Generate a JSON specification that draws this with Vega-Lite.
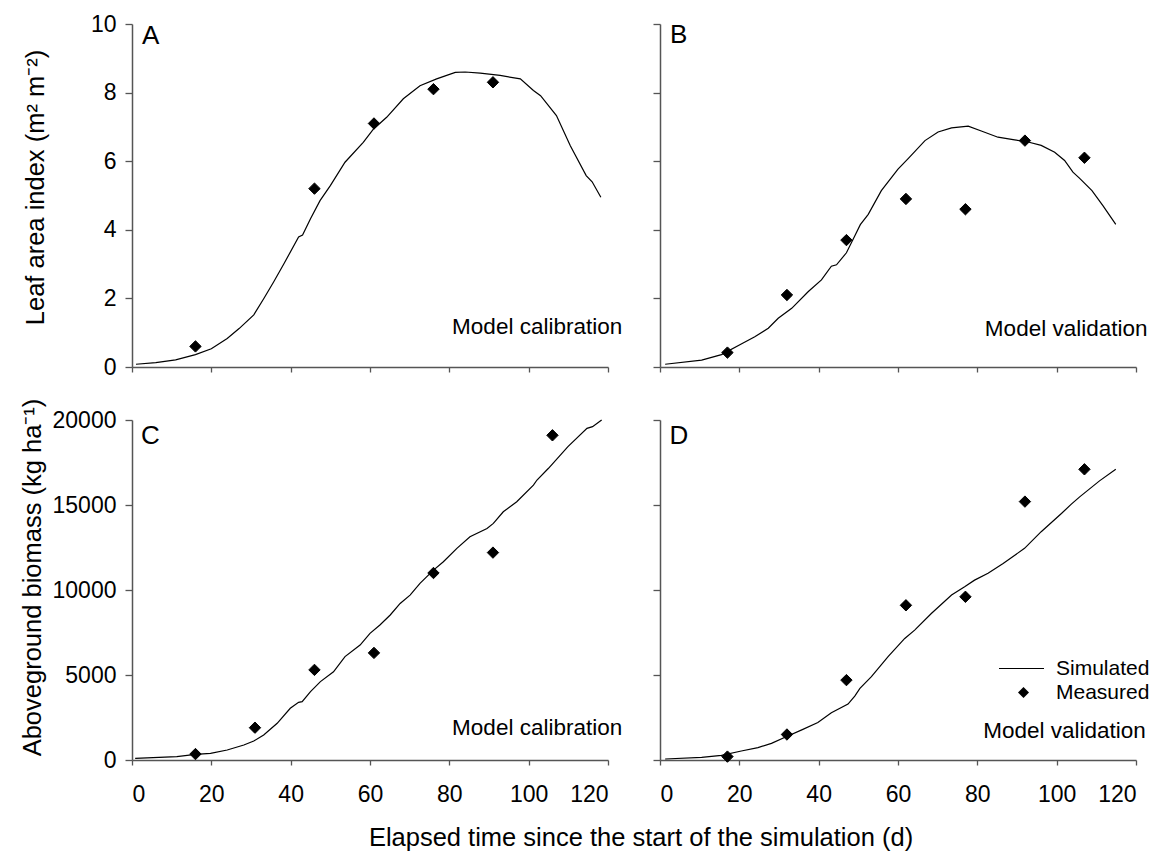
{
  "$schema": "https://vega.github.io/schema/vega-lite/v6.json",
  "background": "white",
  "padding": {"left": 19, "top": 13, "right": 5, "bottom": 4},
  "config": {
    "view": {"stroke": null},
    "font": "Liberation Sans",
    "axis": {
      "grid": false,
      "domainColor": "#555",
      "domainWidth": 1.5,
      "tickColor": "#555",
      "tickWidth": 1.3,
      "labelFont": "Liberation Sans",
      "labelFontSize": 23,
      "labelColor": "black",
      "titleFont": "Liberation Sans",
      "titleFontSize": 25.5,
      "titleFontWeight": "normal",
      "titleColor": "black"
    },
    "axisX": {"tickSize": 5, "labelPadding": 18},
    "axisY": {"tickSize": 7, "labelPadding": 9},
    "legend": {"labelFont": "Liberation Sans", "labelFontSize": 21, "labelColor": "black", "padding": 0, "rowPadding": 3}
  },
  "title": {
    "text": "Elapsed time since the start of the simulation (d)",
    "orient": "bottom",
    "anchor": "middle",
    "font": "Liberation Sans",
    "fontSize": 25.5,
    "fontWeight": "normal",
    "color": "black",
    "offset": 20,
    "dx": 56
  },
  "datasets": {
    "sim": [
      {"panel": "A", "d": 1, "v": 0.08}, {"panel": "A", "d": 6, "v": 0.13}, {"panel": "A", "d": 11, "v": 0.21},
      {"panel": "A", "d": 16, "v": 0.36}, {"panel": "A", "d": 20, "v": 0.53}, {"panel": "A", "d": 24, "v": 0.83},
      {"panel": "A", "d": 27, "v": 1.12}, {"panel": "A", "d": 30.7, "v": 1.52}, {"panel": "A", "d": 33.2, "v": 1.99},
      {"panel": "A", "d": 35.7, "v": 2.48}, {"panel": "A", "d": 38.3, "v": 3.01}, {"panel": "A", "d": 42, "v": 3.79},
      {"panel": "A", "d": 43, "v": 3.85}, {"panel": "A", "d": 45, "v": 4.32}, {"panel": "A", "d": 47.4, "v": 4.85},
      {"panel": "A", "d": 50, "v": 5.29}, {"panel": "A", "d": 53.7, "v": 5.97}, {"panel": "A", "d": 58.3, "v": 6.55},
      {"panel": "A", "d": 60.9, "v": 6.94}, {"panel": "A", "d": 64.2, "v": 7.28}, {"panel": "A", "d": 68.4, "v": 7.82},
      {"panel": "A", "d": 72.6, "v": 8.2}, {"panel": "A", "d": 76.8, "v": 8.4}, {"panel": "A", "d": 81.5, "v": 8.59},
      {"panel": "A", "d": 84, "v": 8.6}, {"panel": "A", "d": 87.8, "v": 8.57}, {"panel": "A", "d": 92.8, "v": 8.5},
      {"panel": "A", "d": 97.9, "v": 8.4}, {"panel": "A", "d": 101.2, "v": 8.06}, {"panel": "A", "d": 103, "v": 7.91},
      {"panel": "A", "d": 107, "v": 7.33}, {"panel": "A", "d": 110.5, "v": 6.45}, {"panel": "A", "d": 114.5, "v": 5.58},
      {"panel": "A", "d": 116, "v": 5.4}, {"panel": "A", "d": 118.2, "v": 4.95},

      {"panel": "B", "d": 1.3, "v": 0.08}, {"panel": "B", "d": 10.5, "v": 0.2}, {"panel": "B", "d": 15.5, "v": 0.36},
      {"panel": "B", "d": 20.6, "v": 0.68}, {"panel": "B", "d": 23.9, "v": 0.88}, {"panel": "B", "d": 27.3, "v": 1.13},
      {"panel": "B", "d": 29.8, "v": 1.42}, {"panel": "B", "d": 33.2, "v": 1.71}, {"panel": "B", "d": 37.4, "v": 2.2},
      {"panel": "B", "d": 40.7, "v": 2.54}, {"panel": "B", "d": 43.2, "v": 2.94}, {"panel": "B", "d": 44.5, "v": 2.98},
      {"panel": "B", "d": 47, "v": 3.33}, {"panel": "B", "d": 49, "v": 3.8}, {"panel": "B", "d": 50.5, "v": 4.15},
      {"panel": "B", "d": 52.5, "v": 4.45}, {"panel": "B", "d": 55.8, "v": 5.14}, {"panel": "B", "d": 60, "v": 5.77},
      {"panel": "B", "d": 62.5, "v": 6.07}, {"panel": "B", "d": 66.8, "v": 6.6}, {"panel": "B", "d": 70.1, "v": 6.85},
      {"panel": "B", "d": 73.5, "v": 6.97}, {"panel": "B", "d": 77.7, "v": 7.02}, {"panel": "B", "d": 81, "v": 6.88},
      {"panel": "B", "d": 85.2, "v": 6.7}, {"panel": "B", "d": 89.4, "v": 6.62}, {"panel": "B", "d": 92.8, "v": 6.56},
      {"panel": "B", "d": 96.1, "v": 6.46}, {"panel": "B", "d": 99.5, "v": 6.26}, {"panel": "B", "d": 102, "v": 6.02},
      {"panel": "B", "d": 104.1, "v": 5.68}, {"panel": "B", "d": 105.8, "v": 5.5}, {"panel": "B", "d": 108.9, "v": 5.14},
      {"panel": "B", "d": 111.7, "v": 4.7}, {"panel": "B", "d": 114.9, "v": 4.16},

      {"panel": "C", "d": 0.8, "v": 100}, {"panel": "C", "d": 11.3, "v": 200}, {"panel": "C", "d": 16, "v": 330},
      {"panel": "C", "d": 19.8, "v": 390}, {"panel": "C", "d": 24, "v": 590}, {"panel": "C", "d": 28.2, "v": 880},
      {"panel": "C", "d": 30.7, "v": 1120}, {"panel": "C", "d": 33.2, "v": 1470}, {"panel": "C", "d": 36.6, "v": 2160},
      {"panel": "C", "d": 39.9, "v": 3040}, {"panel": "C", "d": 42, "v": 3390}, {"panel": "C", "d": 42.9, "v": 3430},
      {"panel": "C", "d": 45, "v": 4020}, {"panel": "C", "d": 47.5, "v": 4610}, {"panel": "C", "d": 50.8, "v": 5190},
      {"panel": "C", "d": 53.7, "v": 6080}, {"panel": "C", "d": 57.5, "v": 6760}, {"panel": "C", "d": 60, "v": 7450},
      {"panel": "C", "d": 62.5, "v": 7940}, {"panel": "C", "d": 65.1, "v": 8530}, {"panel": "C", "d": 67.6, "v": 9210},
      {"panel": "C", "d": 70.1, "v": 9700}, {"panel": "C", "d": 72.6, "v": 10390}, {"panel": "C", "d": 76, "v": 11170},
      {"panel": "C", "d": 78.5, "v": 11660}, {"panel": "C", "d": 81.9, "v": 12450}, {"panel": "C", "d": 85.2, "v": 13130},
      {"panel": "C", "d": 89.5, "v": 13620}, {"panel": "C", "d": 91.1, "v": 13920}, {"panel": "C", "d": 93.6, "v": 14600},
      {"panel": "C", "d": 97, "v": 15190}, {"panel": "C", "d": 101.2, "v": 16170}, {"panel": "C", "d": 102.1, "v": 16470},
      {"panel": "C", "d": 105, "v": 17160}, {"panel": "C", "d": 109.9, "v": 18430}, {"panel": "C", "d": 114.7, "v": 19510},
      {"panel": "C", "d": 116.1, "v": 19610}, {"panel": "C", "d": 118.4, "v": 20000},

      {"panel": "D", "d": 1.3, "v": 60}, {"panel": "D", "d": 10.5, "v": 160}, {"panel": "D", "d": 15.5, "v": 270},
      {"panel": "D", "d": 20.5, "v": 530}, {"panel": "D", "d": 24.7, "v": 725}, {"panel": "D", "d": 28.1, "v": 980},
      {"panel": "D", "d": 31.8, "v": 1370}, {"panel": "D", "d": 35.6, "v": 1760}, {"panel": "D", "d": 39.8, "v": 2200},
      {"panel": "D", "d": 43.2, "v": 2780}, {"panel": "D", "d": 47.4, "v": 3290}, {"panel": "D", "d": 49.1, "v": 3760},
      {"panel": "D", "d": 50.4, "v": 4210}, {"panel": "D", "d": 53.3, "v": 4900}, {"panel": "D", "d": 57.5, "v": 6080},
      {"panel": "D", "d": 61.7, "v": 7150}, {"panel": "D", "d": 64.2, "v": 7640}, {"panel": "D", "d": 68.4, "v": 8620},
      {"panel": "D", "d": 73.5, "v": 9700}, {"panel": "D", "d": 76.8, "v": 10190}, {"panel": "D", "d": 79.3, "v": 10580},
      {"panel": "D", "d": 82.7, "v": 10980}, {"panel": "D", "d": 86.5, "v": 11560}, {"panel": "D", "d": 91.9, "v": 12450},
      {"panel": "D", "d": 96.1, "v": 13430}, {"panel": "D", "d": 101.2, "v": 14500}, {"panel": "D", "d": 103.7, "v": 15050},
      {"panel": "D", "d": 105.8, "v": 15480}, {"panel": "D", "d": 110.8, "v": 16420}, {"panel": "D", "d": 114.9, "v": 17100}
    ],
    "obs": [
      {"panel": "A", "kind": "Measured", "d": 16, "v": 0.6}, {"panel": "A", "kind": "Measured", "d": 46, "v": 5.2},
      {"panel": "A", "kind": "Measured", "d": 61, "v": 7.1}, {"panel": "A", "kind": "Measured", "d": 76, "v": 8.1},
      {"panel": "A", "kind": "Measured", "d": 91, "v": 8.3},
      {"panel": "B", "kind": "Measured", "d": 17, "v": 0.42}, {"panel": "B", "kind": "Measured", "d": 32, "v": 2.1},
      {"panel": "B", "kind": "Measured", "d": 47, "v": 3.7}, {"panel": "B", "kind": "Measured", "d": 62, "v": 4.9},
      {"panel": "B", "kind": "Measured", "d": 77, "v": 4.6}, {"panel": "B", "kind": "Measured", "d": 92, "v": 6.6},
      {"panel": "B", "kind": "Measured", "d": 107, "v": 6.1},
      {"panel": "C", "kind": "Measured", "d": 16, "v": 350}, {"panel": "C", "kind": "Measured", "d": 31, "v": 1900},
      {"panel": "C", "kind": "Measured", "d": 46, "v": 5300}, {"panel": "C", "kind": "Measured", "d": 61, "v": 6300},
      {"panel": "C", "kind": "Measured", "d": 76, "v": 11000}, {"panel": "C", "kind": "Measured", "d": 91, "v": 12200},
      {"panel": "C", "kind": "Measured", "d": 106, "v": 19100},
      {"panel": "D", "kind": "Measured", "d": 17, "v": 200}, {"panel": "D", "kind": "Measured", "d": 32, "v": 1500},
      {"panel": "D", "kind": "Measured", "d": 47, "v": 4700}, {"panel": "D", "kind": "Measured", "d": 62, "v": 9100},
      {"panel": "D", "kind": "Measured", "d": 77, "v": 9600}, {"panel": "D", "kind": "Measured", "d": 92, "v": 15200},
      {"panel": "D", "kind": "Measured", "d": 107, "v": 17100}
    ]
  },
  "columns": 2,
  "align": "each",
  "spacing": {"row": 19, "column": 29},
  "concat": [
    {
      "width": 476, "height": 343,
      "layer": [
        {
          "data": {"name": "sim"},
          "transform": [{"filter": "datum.panel === 'A'"}],
          "mark": {"type": "line", "color": "black", "strokeWidth": 1.2},
          "encoding": {
            "x": {"field": "d", "type": "quantitative", "scale": {"domain": [0, 120], "nice": false},
                  "axis": {"values": [0, 20, 40, 60, 80, 100, 120], "labels": false, "title": null}},
            "y": {"field": "v", "type": "quantitative", "scale": {"domain": [0, 10], "nice": false},
                  "axis": {"values": [0, 2, 4, 6, 8, 10], "title": "Leaf area index (m² m⁻²)",
                           "titleX": -97, "titleY": 163, "titleBaseline": "middle", "titleAlign": "center", "titleAngle": -90}}
          }
        },
        {
          "data": {"name": "obs"},
          "transform": [{"filter": "datum.panel === 'A'"}],
          "mark": {"type": "point", "shape": "diamond", "filled": true, "color": "black", "stroke": "black", "strokeWidth": 1, "size": 130, "opacity": 1},
          "encoding": {
            "x": {"field": "d", "type": "quantitative"},
            "y": {"field": "v", "type": "quantitative"}
          }
        },
        {
          "data": {"values": [{}]},
          "mark": {"type": "text", "text": "A", "font": "Liberation Sans", "fontSize": 26, "align": "left", "baseline": "alphabetic", "color": "black"},
          "encoding": {"x": {"datum": 2.5, "type": "quantitative"}, "y": {"datum": 9.42, "type": "quantitative"}}
        },
        {
          "data": {"values": [{}]},
          "mark": {"type": "text", "text": "Model calibration", "font": "Liberation Sans", "fontSize": 22.5, "align": "left", "baseline": "alphabetic", "color": "black"},
          "encoding": {"x": {"datum": 80.7, "type": "quantitative"}, "y": {"datum": 0.96, "type": "quantitative"}}
        }
      ]
    },
    {
      "width": 476, "height": 343,
      "layer": [
        {
          "data": {"name": "sim"},
          "transform": [{"filter": "datum.panel === 'B'"}],
          "mark": {"type": "line", "color": "black", "strokeWidth": 1.2},
          "encoding": {
            "x": {"field": "d", "type": "quantitative", "scale": {"domain": [0, 120], "nice": false},
                  "axis": {"values": [0, 20, 40, 60, 80, 100, 120], "labels": false, "title": null}},
            "y": {"field": "v", "type": "quantitative", "scale": {"domain": [0, 10], "nice": false},
                  "axis": {"values": [0, 2, 4, 6, 8, 10], "labels": false, "title": null}}
          }
        },
        {
          "data": {"name": "obs"},
          "transform": [{"filter": "datum.panel === 'B'"}],
          "mark": {"type": "point", "shape": "diamond", "filled": true, "color": "black", "stroke": "black", "strokeWidth": 1, "size": 130, "opacity": 1},
          "encoding": {
            "x": {"field": "d", "type": "quantitative"},
            "y": {"field": "v", "type": "quantitative"}
          }
        },
        {
          "data": {"values": [{}]},
          "mark": {"type": "text", "text": "B", "font": "Liberation Sans", "fontSize": 26, "align": "left", "baseline": "alphabetic", "color": "black"},
          "encoding": {"x": {"datum": 2.5, "type": "quantitative"}, "y": {"datum": 9.45, "type": "quantitative"}}
        },
        {
          "data": {"values": [{}]},
          "mark": {"type": "text", "text": "Model validation", "font": "Liberation Sans", "fontSize": 22.5, "align": "left", "baseline": "alphabetic", "color": "black"},
          "encoding": {"x": {"datum": 81.9, "type": "quantitative"}, "y": {"datum": 0.91, "type": "quantitative"}}
        }
      ]
    },
    {
      "width": 476, "height": 340,
      "layer": [
        {
          "data": {"name": "sim"},
          "transform": [{"filter": "datum.panel === 'C'"}],
          "mark": {"type": "line", "color": "black", "strokeWidth": 1.2},
          "encoding": {
            "x": {"field": "d", "type": "quantitative", "scale": {"domain": [0, 120], "nice": false},
                  "axis": {"values": [0, 20, 40, 60, 80, 100, 120], "format": "d", "title": null}},
            "y": {"field": "v", "type": "quantitative", "scale": {"domain": [0, 20000], "nice": false},
                  "axis": {"values": [0, 5000, 10000, 15000, 20000], "format": "d", "title": "Aboveground biomass (kg ha⁻¹)",
                           "titleX": -100, "titleY": 157, "titleBaseline": "middle", "titleAlign": "center", "titleAngle": -90}}
          }
        },
        {
          "data": {"name": "obs"},
          "transform": [{"filter": "datum.panel === 'C'"}],
          "mark": {"type": "point", "shape": "diamond", "filled": true, "color": "black", "stroke": "black", "strokeWidth": 1, "size": 130, "opacity": 1},
          "encoding": {
            "x": {"field": "d", "type": "quantitative"},
            "y": {"field": "v", "type": "quantitative"}
          }
        },
        {
          "data": {"values": [{}]},
          "mark": {"type": "text", "text": "C", "font": "Liberation Sans", "fontSize": 26, "align": "left", "baseline": "alphabetic", "color": "black"},
          "encoding": {"x": {"datum": 2.3, "type": "quantitative"}, "y": {"datum": 18600, "type": "quantitative"}}
        },
        {
          "data": {"values": [{}]},
          "mark": {"type": "text", "text": "Model calibration", "font": "Liberation Sans", "fontSize": 22.5, "align": "left", "baseline": "alphabetic", "color": "black"},
          "encoding": {"x": {"datum": 80.7, "type": "quantitative"}, "y": {"datum": 1470, "type": "quantitative"}}
        }
      ]
    },
    {
      "width": 476, "height": 340,
      "layer": [
        {
          "data": {"name": "sim"},
          "transform": [{"filter": "datum.panel === 'D'"}],
          "mark": {"type": "line", "strokeWidth": 1.2},
          "encoding": {
            "x": {"field": "d", "type": "quantitative", "scale": {"domain": [0, 120], "nice": false},
                  "axis": {"values": [0, 20, 40, 60, 80, 100, 120], "format": "d", "title": null}},
            "y": {"field": "v", "type": "quantitative", "scale": {"domain": [0, 20000], "nice": false},
                  "axis": {"values": [0, 5000, 10000, 15000, 20000], "labels": false, "title": null}},
            "color": {
              "datum": "Simulated", "type": "nominal",
              "scale": {"domain": ["Simulated"], "range": ["black"]},
              "legend": {
                "title": null, "orient": "none", "legendX": 866, "legendY": 621,
                "symbolType": "stroke", "symbolSize": 2025, "symbolStrokeWidth": 1.2, "symbolStrokeColor": "black",
                "labelOffset": 11
              }
            }
          }
        },
        {
          "data": {"name": "obs"},
          "transform": [{"filter": "datum.panel === 'D'"}],
          "mark": {"type": "point", "filled": true, "color": "black", "stroke": "black", "strokeWidth": 1, "size": 130, "opacity": 1},
          "encoding": {
            "x": {"field": "d", "type": "quantitative"},
            "y": {"field": "v", "type": "quantitative"},
            "shape": {
              "field": "kind", "type": "nominal",
              "scale": {"domain": ["Measured"], "range": ["diamond"]},
              "legend": {
                "title": null, "orient": "none", "legendX": 881, "legendY": 658,
                "symbolSize": 121, "symbolFillColor": "black", "symbolStrokeColor": "black", "symbolStrokeWidth": 1.2,
                "symbolOpacity": 1, "labelOffset": 22
              }
            }
          }
        },
        {
          "data": {"values": [{}]},
          "mark": {"type": "text", "text": "D", "font": "Liberation Sans", "fontSize": 26, "align": "left", "baseline": "alphabetic", "color": "black"},
          "encoding": {"x": {"datum": 2.4, "type": "quantitative"}, "y": {"datum": 18600, "type": "quantitative"}}
        },
        {
          "data": {"values": [{}]},
          "mark": {"type": "text", "text": "Model validation", "font": "Liberation Sans", "fontSize": 22.5, "align": "left", "baseline": "alphabetic", "color": "black"},
          "encoding": {"x": {"datum": 81.5, "type": "quantitative"}, "y": {"datum": 1270, "type": "quantitative"}}
        }
      ]
    }
  ]
}
